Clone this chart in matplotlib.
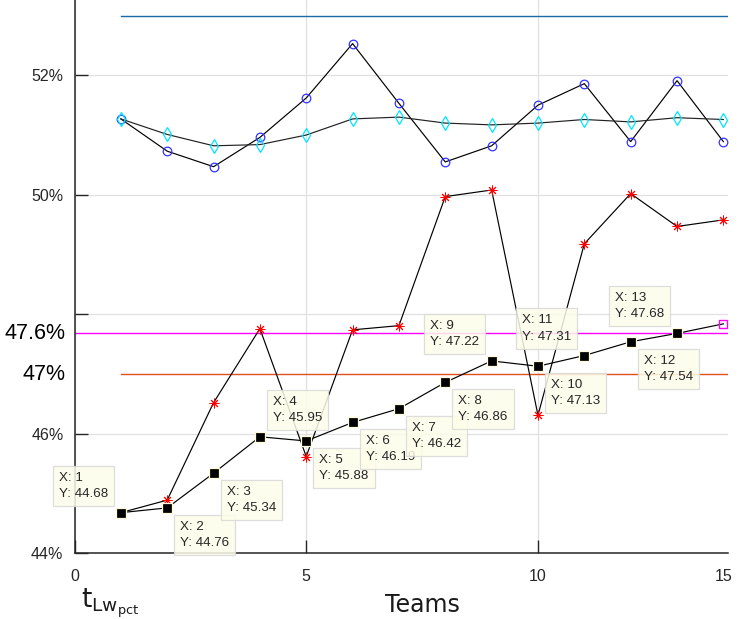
import matplotlib
matplotlib.use("Agg")
import matplotlib.pyplot as plt
import numpy as np

# ---------------- data ----------------
teams = [1, 2, 3, 4, 5, 6, 7, 8, 9, 10, 11, 12, 13, 14]
blue_circles = [51.27, 50.73, 50.47, 50.96, 51.62, 52.53, 51.53, 50.55, 50.82, 51.50, 51.86, 50.89, 51.91, 50.89]
cyan_diamonds = [51.27, 51.01, 50.82, 50.84, 51.00, 51.27, 51.30, 51.20, 51.17, 51.20, 51.26, 51.22, 51.29, 51.26]
red_stars = [44.68, 44.89, 46.52, 47.76, 45.62, 47.74, 47.81, 49.97, 50.08, 46.31, 49.18, 50.02, 49.47, 49.58]
black_squares = [44.68, 44.76, 45.34, 45.95, 45.88, 46.19, 46.42, 46.86, 47.22, 47.13, 47.31, 47.54, 47.68, 47.84]
tip_count = 13  # datatips on the first 13 teams

top_line = 53.0
magenta_line = 47.68
orange_line = 47.0

ytick_vals = [44, 46, 48, 50, 52]
ytick_labels = ["44%", "46%", "", "50%", "52%"]
xtick_vals = [0, 5, 10]
xtick_labels = ["0", "5", "10"]
last_tick_label = "15"

# datatip placement: direction of box relative to point
tip_dirs = ["ul", "dr", "dr", "ur", "dr", "dr", "dr", "dr", "ul", "dr", "ul", "dr", "ul"]

# ---------------- figure ----------------
W, H = 746, 619
fig = plt.figure(figsize=(W / 100, H / 100), dpi=100)
ax = fig.add_axes([74.5 / W, 65.7 / H, (728 - 74.5) / W, 553.3 / H])
ax.set_xlim(0, 14.1)
ax.set_ylim(44.0, 53.26)

tick_font = dict(family="Liberation Sans", size=11.5, color="#262626")

# grid
ax.set_axisbelow(True)
ax.grid(True, which="major", color="#e0e0e0", lw=0.9)

# reference lines
ax.plot([1, 15], [top_line, top_line], color="#1a6aa8", lw=1.0, zorder=2)
ax.plot([0, 15], [magenta_line, magenta_line], color="#FF00FF", lw=1.0, zorder=2)
ax.plot([1, 15], [orange_line, orange_line], color="#E0501A", lw=1.0, zorder=2)

# series
ax.plot(teams, blue_circles, color="black", lw=0.85, marker="o", ms=6.2,
        mfc="none", mec="#3333ff", mew=0.9, zorder=3)
ax.plot(teams, cyan_diamonds, color="#222222", lw=0.85, marker="d", ms=7.5,
        mfc="none", mec="#00e5ff", mew=0.9, zorder=3)
ax.plot(teams, red_stars, color="black", lw=0.85, marker=(8, 2, 0), ms=7.0,
        mfc="red", mec="red", mew=0.7, zorder=3)
ax.plot(teams, black_squares, color="black", lw=0.85, zorder=3)
ax.plot(teams[:tip_count], black_squares[:tip_count], ls="none", marker="s", ms=7.2,
        mfc="black", mec="#fffbd8", mew=0.9, zorder=6)
ax.plot(teams[-1:], black_squares[-1:], ls="none", marker="s", ms=5.5,
        mfc="none", mec="#FF00FF", mew=1.0, zorder=6)

# datatips
off = 13
for x, y, d in zip(teams[:tip_count], black_squares[:tip_count], tip_dirs):
    dx = off if "r" in d else -off
    dy = off if "u" in d else -off
    ha = "left" if "r" in d else "right"
    va = "bottom" if "u" in d else "top"
    ax.annotate(f"X: {x}\nY: {y:.2f}", xy=(x, y), xytext=(dx, dy),
                textcoords="offset pixels", ha=ha, va=va, multialignment="left",
                family="Liberation Sans", fontsize=9.6, color="#262626",
                linespacing=1.45,
                bbox=dict(boxstyle="square,pad=0.45", fc="#fdfdea", ec="#d8d8d8",
                          lw=0.9, alpha=0.85),
                zorder=5, annotation_clip=False)

# axes style
for s in ["top", "right"]:
    ax.spines[s].set_visible(False)
for s in ["left", "bottom"]:
    ax.spines[s].set_color("#262626")
    ax.spines[s].set_linewidth(1.1)

ax.set_yticks(ytick_vals, ytick_labels, **tick_font)
ax.set_xticks(xtick_vals, xtick_labels, **tick_font)
ax.set_xticks([14], [last_tick_label], minor=True, **tick_font)
ax.tick_params(which="major", direction="in", length=9.5, width=1.0, color="#262626")
ax.tick_params(axis="y", pad=8)
ax.tick_params(axis="x", pad=11)
ax.tick_params(which="minor", length=0, pad=11)
ax.grid(False, which="minor")

# special large y labels
trans = ax.get_yaxis_transform()
ax.text(-0.0135, magenta_line, "47.6%", transform=trans, ha="right", va="center",
        family="Liberation Sans", fontsize=15.5, color="black")
ax.text(-0.0135, orange_line, "47%", transform=trans, ha="right", va="center",
        family="Liberation Sans", fontsize=15.5, color="black")

# axis labels
plt.rcParams["mathtext.fontset"] = "dejavusans"
fig.text(422 / W, (H - 611.7) / H, "Teams", ha="center", va="baseline",
         family="DejaVu Sans", fontsize=17, color="#1a1a1a")
fig.text(81 / W, (H - 607) / H, r"$\mathrm{t}_{\mathrm{Lw}_{\mathrm{pct}}}$",
         ha="left", va="baseline", fontsize=19, color="#1a1a1a")

fig.savefig("out.png", dpi=100)
